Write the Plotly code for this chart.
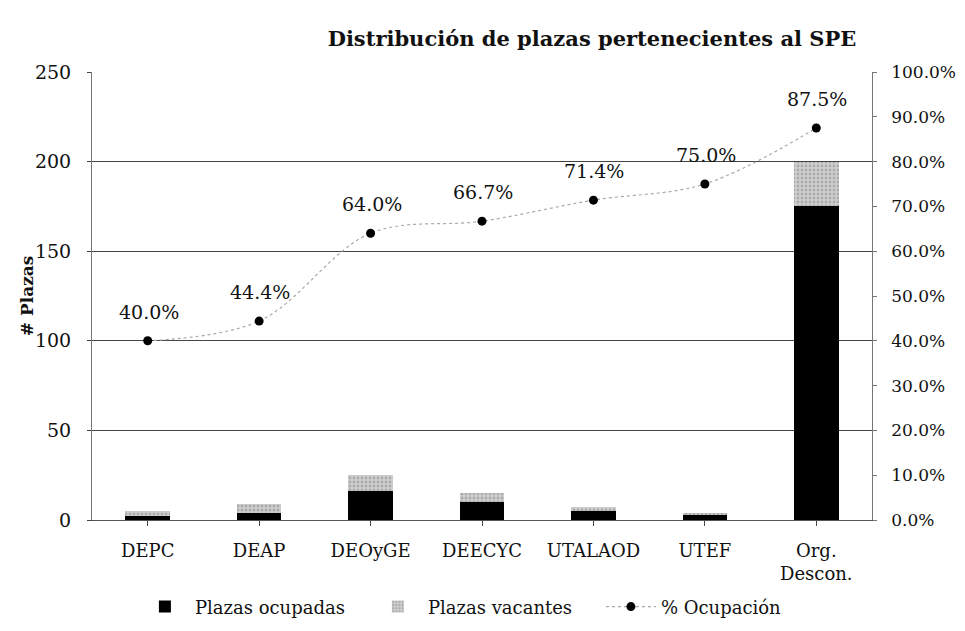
import plotly.graph_objects as go

categories = ["DEPC", "DEAP", "DEOyGE", "DEECYC", "UTALAOD", "UTEF", "Org.<br>Descon."]
ocupadas = [2, 4, 16, 10, 5, 3, 175]
vacantes = [3, 5, 9, 5, 2, 1, 25]
ocupacion = [40.0, 44.4, 64.0, 66.7, 71.4, 75.0, 87.5]
y_ticks = [0, 50, 100, 150, 200, 250]
pct_ticks = [0, 10, 20, 30, 40, 50, 60, 70, 80, 90, 100]

FONT = "DejaVu Serif"

fig = go.Figure()
fig.add_trace(go.Bar(x=categories, y=ocupadas, name="Plazas ocupadas",
                     marker=dict(color="black", line=dict(width=0)), width=0.4))
fig.add_trace(go.Bar(x=categories, y=vacantes, name="Plazas vacantes",
                     marker=dict(color="#b4b4b4", line=dict(width=0),
                                 pattern=dict(shape=".", fgcolor="#888888", bgcolor="#cfcfcf", size=4, solidity=0.4)),
                     width=0.4))
fig.add_trace(go.Scatter(x=categories, y=ocupacion, name="% Ocupación", yaxis="y2",
                         mode="lines+markers",
                         line=dict(color="#a8a8a8", width=1.2, dash="dot", shape="spline"),
                         marker=dict(color="black", size=9)))

for c, v in zip(categories, ocupacion):
    fig.add_annotation(x=c, y=v, yref="y2", text=f"{v:.1f}%", showarrow=False,
                       yshift=29, xshift=1, font=dict(family=FONT, size=19, color="#111"))

fig.add_annotation(x=-0.083, xref="paper", xanchor="center", y=0.5, yref="paper",
                   yanchor="middle", text="<b># Plazas</b>", textangle=-90, showarrow=False,
                   font=dict(family=FONT, size=17, color="#111"))

fig.update_layout(
    barmode="stack",
    width=965, height=631,
    margin=dict(l=84, r=101, t=64, b=119, autoexpand=False),
    paper_bgcolor="white", plot_bgcolor="white",
    font=dict(family=FONT, size=16, color="#111"),
    title=dict(text="<b>Distribución de plazas pertenecientes al SPE</b>",
               x=0.641, xref="paper", xanchor="center", y=0.952, yanchor="middle",
               font=dict(family=FONT, size=21, color="#111")),
    xaxis=dict(showline=True, linecolor="#555", ticks="outside", ticklen=5, automargin=False,
               tickfont=dict(size=18), showgrid=False, ticklabelstandoff=9),
    yaxis=dict(range=[0, 250], tickvals=y_ticks, showgrid=True, gridcolor="#444", gridwidth=1,
               showline=True, linecolor="#777", ticks="outside", ticklen=4, zeroline=False,
               automargin=False, tickfont=dict(size=19), ticklabelstandoff=12),
    yaxis2=dict(range=[0, 100], tickvals=pct_ticks,
                ticktext=["\u00a0\u00a0" + f"{v:.1f}%" for v in pct_ticks],
                overlaying="y", side="right", showgrid=False, showline=True, linecolor="#777",
                ticks="outside", ticklen=4, tickcolor="#777", zeroline=False,
                tickfont=dict(size=17), automargin=False),
    legend=dict(orientation="h", x=0.055, xanchor="left", y=-0.194, yanchor="middle",
                font=dict(size=18), traceorder="normal", itemwidth=50,
                entrywidth=168, entrywidthmode="pixels"),
    bargap=0.6,
)
fig.write_html("out.html")
